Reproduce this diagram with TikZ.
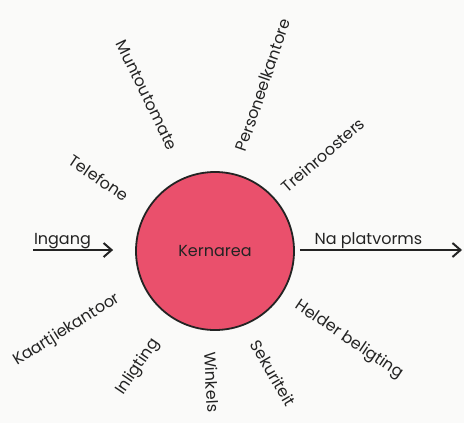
\documentclass[tikz,border=0pt]{standalone}
\usepackage{fontspec}
\setmainfont{Poppins}
\usepackage{tikz}
\usetikzlibrary{arrows.meta,positioning}
\definecolor{kernpink}{RGB}{234,80,108}
\definecolor{bgwhite}{RGB}{250,250,249}
\definecolor{inkgray}{RGB}{35,35,35}

\tikzset{
    radlabel/.style={font=\fontsize{8}{9}\selectfont, text=inkgray, inner sep=0pt},
    flowarrow/.style={-{Straight Barb[length=4pt,width=7pt]}, line width=1pt, inkgray}
}

\begin{document}
\begin{tikzpicture}[x=0.5pt,y=-0.5pt]
    \fill[bgwhite] (0,0) rectangle (464,423);
    \useasboundingbox (0,0) rectangle (464,423);
    % central area
    \node[circle, draw=inkgray, line width=0.9pt, fill=kernpink, minimum size=79pt,
          inner sep=0pt, radlabel] (ker) at (215,251) {Kernarea};
    % in and out
    \coordinate (in) at (33,250);
    \coordinate (out) at (462,250);
    \draw[flowarrow, shorten >=11pt] (in) -- (in -| ker.west)
        node[pos=0, anchor=base west, yshift=3pt, radlabel] (ing) {Ingang};
    \draw[flowarrow, shorten <=2.5pt] (out -| ker.east) -- (out)
        node[pos=0.44, anchor=base, yshift=3pt, radlabel] (plat) {Na platvorms};
    % facilities round the core
    \foreach \nm/\x/\y/\r/\txt in {mun/147/95/-64/Muntoutomate,
                                   per/263/85/71/Personeelkantore,
                                   tre/323/155/41/Treinroosters,
                                   tel/99/178/-34/Telefone,
                                   kaa/67/330/32/Kaartjiekantoor,
                                   inl/138/367/56/Inligting,
                                   win/212/382/-87/Winkels,
                                   sek/273/373/-60/Sekuriteit,
                                   hel/349/340/-34/Helder beligting} {
        \node[radlabel, rotate=\r] (lbl\nm) at (\x,\y) {\txt};
    }
\end{tikzpicture}
\end{document}
